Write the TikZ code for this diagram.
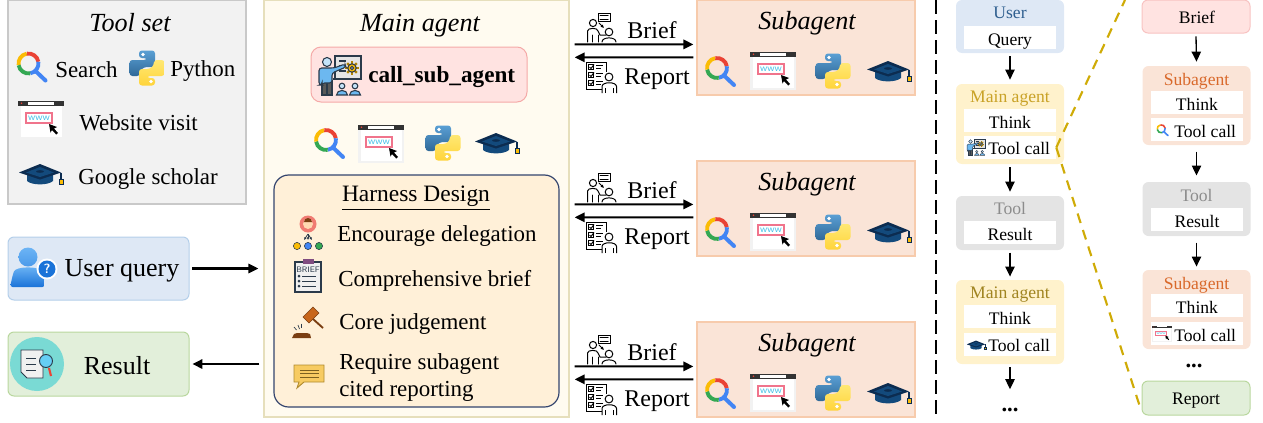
\documentclass[tikz,border=0pt]{standalone}
\usepackage{fontspec}
\setmainfont{Liberation Serif}
\usetikzlibrary{arrows.meta}

\definecolor{toolfill}{HTML}{F2F2F2}
\definecolor{toolline}{HTML}{C9C9C9}
\definecolor{userfill}{HTML}{DEE8F5}
\definecolor{userline}{HTML}{B4CFEA}
\definecolor{userhead}{HTML}{2F5F8F}
\definecolor{resfill}{HTML}{E2EFDA}
\definecolor{resline}{HTML}{B9D79E}
\definecolor{mainfill}{HTML}{FFFBF0}
\definecolor{mainline}{HTML}{E6DFBC}
\definecolor{callfill}{HTML}{FFE3E1}
\definecolor{callline}{HTML}{F5AAA8}
\definecolor{harnfill}{HTML}{FFF0D8}
\definecolor{harnline}{HTML}{34456E}
\definecolor{subfill}{HTML}{FAE4D7}
\definecolor{subline}{HTML}{F7CBAC}
\definecolor{subhead}{HTML}{D9692B}
\definecolor{mainflow}{HTML}{FFF2CC}
\definecolor{mainhead}{HTML}{C9A227}
\definecolor{mainheadb}{HTML}{A08420}
\definecolor{greyfill}{HTML}{E4E4E4}
\definecolor{greyhead}{HTML}{8C8C8C}
\definecolor{goldline}{HTML}{CFAB06}
\definecolor{gred}{HTML}{EA4335}
\definecolor{gyellow}{HTML}{FBBC05}
\definecolor{ggreen}{HTML}{34A853}
\definecolor{gblue}{HTML}{4285F4}
\definecolor{pyblueA}{HTML}{5A9FD4}
\definecolor{pyblueB}{HTML}{306998}
\definecolor{pyyelA}{HTML}{FFE873}
\definecolor{pyyelB}{HTML}{FFD43B}
\definecolor{capblue}{HTML}{134A7C}
\definecolor{capdark}{HTML}{0C2C50}
\definecolor{inkdark}{HTML}{2B3A4A}
\definecolor{shirt}{HTML}{6CB8F0}
\definecolor{teal}{HTML}{7ADAD4}
\definecolor{wwwcyan}{HTML}{45C0E8}
\definecolor{wwwpink}{HTML}{F0748C}
\definecolor{gavelA}{HTML}{C8661B}
\definecolor{gavelB}{HTML}{7A3E12}
\definecolor{quotefill}{HTML}{F7CB62}
\definecolor{quoteline}{HTML}{B08A2E}
\definecolor{userskyA}{HTML}{6CB4F5}
\definecolor{userskyB}{HTML}{1A73D8}

\newcommand{\fsz}[1]{\fontsize{#1}{#1}\selectfont}

\tikzset{
 x=0.75pt, y=-0.75pt,
 boxsize/.style 2 args={minimum width=#1*0.75pt, minimum height=#2*0.75pt, inner sep=0pt},
 softbox/.style={rounded corners=4.5pt, line width=0.75pt},
 whitebar/.style={fill=white, boxsize={92}{23}, text height=11.7pt, text depth=0pt},
 tooltxt/.style={inner sep=0pt, anchor=west, font=\fsz{17.2}},
 headtxt/.style={inner sep=0pt, font=\fsz{19.6}\itshape},
 flowtxt/.style={inner sep=0pt, font=\fsz{13.2}},
 linktip/.style={-{Triangle[length=7.5pt,width=7pt]}, line width=1.6pt},
 flowtip/.style={-{Triangle[length=7.5pt,width=7pt]}, line width=1pt},
 golddash/.style={goldline, line width=1.6pt, dash pattern=on 7.5pt off 5.5pt},
}

% tool icons, all drawn with y pointing down around their centre
\newcommand{\searchicon}[3]{
\begin{scope}[shift={(#1,#2)},scale=#3,line width=#3*2.9pt]
 \draw[gyellow] (-2,-3) ++(-190:10) arc[start angle=-190,end angle=-100,radius=10];
 \draw[gred] (-2,-3) ++(-100:10) arc[start angle=-100,end angle=-10,radius=10];
 \draw[gblue] (-2,-3) ++(-10:10) arc[start angle=-10,end angle=80,radius=10];
 \draw[ggreen] (-2,-3) ++(80:10) arc[start angle=80,end angle=170,radius=10];
 \draw[gblue,line width=#3*3pt,line cap=round] (5,4.5) -- (15,14);
\end{scope}
}
\newcommand{\pyicon}[3]{
\begin{scope}[shift={(#1,#2)},scale=#3]
 \shade[top color=pyblueA,bottom color=pyblueB,rounded corners=#3*2.2pt]
  (-8,-17.5) -- (8,-17.5) -- (8,-1) -- (-3,-1) -- (-7,3) -- (-7,8) -- (-17.5,8) -- (-17.5,-8) -- (0,-8) -- (0,-10) -- (-8,-10) -- cycle;
 \shade[top color=pyyelA,bottom color=pyyelB,rounded corners=#3*2.2pt,rotate=180]
  (-8,-17.5) -- (8,-17.5) -- (8,-1) -- (-3,-1) -- (-7,3) -- (-7,8) -- (-17.5,8) -- (-17.5,-8) -- (0,-8) -- (0,-10) -- (-8,-10) -- cycle;
 \fill[white] (-4,-13.5) circle (1.8);
 \fill[white] (4,13.5) circle (1.8);
\end{scope}
}
\newcommand{\capicon}[3]{
\begin{scope}[shift={(#1,#2)},scale=#3]
 \fill[capblue] (-13,0) -- (-13,7) .. controls (-8,11.5) and (8,11.5) .. (13,7) -- (13,0) -- cycle;
 \fill[capdark] (-21,-1.5) -- (0,-10) -- (21,-1.5) -- (0,5.5) -- cycle;
 \fill[capblue] (-14,-1.5) -- (0,-7) -- (14,-1.5) -- (0,3) -- cycle;
 \fill[capdark] (0,-2.5) ellipse (4 and 1.3);
 \draw[capdark,line width=#3*0.8pt] (21,-1.5) -- (21,5);
 \fill[gyellow,draw=capdark,line width=#3*0.5pt] (19,5) rectangle (23,10.5);
\end{scope}
}
\newcommand{\webicon}[4]{
\begin{scope}[shift={(#2,#3)},scale=#4]
 \fill[black!5] (-23,-19) rectangle (23,19);
 \fill[white] (-20.5,-14) rectangle (20.5,16.5);
 \fill[black!80] (-23,-19) rectangle (23,-14.5);
 \fill[white] (-13,-18) rectangle (13,-15.5);
 \fill[gred] (-19.5,-16.7) circle (0.9);
 \draw[wwwpink,fill=white,line width=#4*1.1pt] (-15,-7) rectangle (11,3);
 \node[inner sep=0pt,text=wwwcyan,scale=#4,font=\sffamily\fsz{7.5}] (#1) at (-2,-2) {www};
 \fill[black] (8,4) -- (16,7) -- (13,8.5) -- (17,13) -- (15.2,14.5) -- (11,10) -- (9.5,12.5) -- cycle;
\end{scope}
}
\newcommand{\teachicon}[3]{
\begin{scope}[shift={(#1,#2)},scale=#3,line width=#3*0.8pt,draw=inkdark]
 \fill[white!90!black,draw=inkdark] (-5,-19) rectangle (21,4);
 \draw[line width=#3*1.6pt] (-7,4) -- (22,4);
 \foreach \ly in {-14,-9,-4} {\draw (-1,\ly) -- (6,\ly);}
 \foreach \a in {0,45,...,315} {\draw[gyellow!70!black,line width=#3*1.8pt] (12,-7) ++(\a:4) -- ++(\a:2.8);}
 \draw[fill=gyellow] (12,-7) circle (4.2);
 \draw[fill=white] (12,-7) circle (1.7);
 \fill[black!65,draw=inkdark] (-18,6) rectangle (-8,20);
 \draw (-13,8) -- (-13,20);
 \draw[fill=shirt,rounded corners=#3*2pt] (-21,10) -- (-21,-7) -- (-6,-7) -- (5,-11) -- (6,-8) -- (-8,-2) -- (-8,8) -- (-18,8) -- (-18,10) -- cycle;
 \draw[fill=shirt!40!white] (-13,-13) circle (4.5);
 \foreach \px in {2,15} {
  \draw[fill=shirt!40!white] (\px,11) circle (2.8);
  \draw[fill=shirt] (\px-5.5,20) .. controls (\px-5.5,14) and (\px+5.5,14) .. (\px+5.5,20) -- cycle;
 }
\end{scope}
}
\newcommand{\briefsign}[2]{
\begin{scope}[shift={(#1,#2)},line width=0.75pt,line cap=round]
 \draw (-8,-8) circle (3.6);
 \draw (-13.5,11) -- (-13.5,0) .. controls (-13.5,-3.5) and (-3,-3.5) .. (-3,0) -- (-1,4) -- (5,4);
 \draw (-9,4) -- (-9,11);
 \draw (-3,4) -- (-3,11);
 \draw (8,1) circle (3.8);
 \draw (1,11) .. controls (1,5.5) and (15,5.5) .. (15,11);
 \draw (-3,-18) rectangle (9,-9.5);
 \draw (-1,-15.5) -- (7,-15.5);
 \draw (-1,-12) -- (7,-12);
 \draw[-{Latex[length=2.5pt,width=2.5pt]}] (-2,-8) -- (3,-3);
\end{scope}
}
\newcommand{\reportsign}[2]{
\begin{scope}[shift={(#1,#2)},line width=0.75pt]
 \draw (6,13) -- (-15,13) -- (-15,-14) -- (5,-14) -- (5,-4);
 \foreach \ly in {-9,-1,7} {
  \draw (-12.5,\ly-2.5) rectangle (-7.5,\ly+2.5);
  \draw (-11.5,\ly) -- (-10,\ly+1.5) -- (-7,\ly-2.5);
  \draw (-5,\ly-1.5) -- (2,\ly-1.5);
  \draw (-5,\ly+1.5) -- (0,\ly+1.5);
 }
 \draw[fill=white] (8,1) circle (3.9);
 \draw[fill=white] (1,17) -- (1,10.5) .. controls (1,5.5) and (15.5,5.5) .. (15.5,10.5) -- (15.5,17);
 \draw (4.5,17) -- (4.5,12);
 \draw (12,17) -- (12,12);
\end{scope}
}

\begin{document}
\begin{tikzpicture}
\useasboundingbox (0,0) rectangle (1263,422);

% tool set
\node (toolset) [fill=toolfill, draw=toolline, line width=1pt, boxsize={238}{204}] at (127,102) {};
\node (tooltitle) [headtxt] at (130,23) {Tool set};
\searchicon{30.5}{66.5}{1}
\node (searchtxt) [tooltxt] at (55,69.5) {Search};
\pyicon{147}{68}{1}
\node (pythontxt) [tooltxt] at (170,71.5) {Python};
\webicon{webset}{41}{120}{1}
\node (webtxt) [tooltxt] at (79,122.5) {Website visit};
\capicon{40}{174}{1}
\node (scholartxt) [tooltxt] at (78,179) {Google scholar};

% query and result
\node (userquery) [softbox, fill=userfill, draw=userline, boxsize={181}{63}] at (98.5,268.5) {};
\node (usertxt) [inner sep=0pt, font=\fsz{19.5}] at (122,271) {User query};
\shade[top color=userskyA, bottom color=userskyA!60!userskyB] (28,257) circle (9.5);
\shade[top color=userskyA, bottom color=userskyB, rounded corners=2pt] (10,287) -- (13,274) .. controls (16,266) and (40,266) .. (43,274) -- (45,287) -- cycle;
\fill[white] (47,269) circle (10.5);
\fill[userskyB] (47,269) circle (8.5);
\node (userask) [inner sep=0pt, text=white, font=\fsz{10}\bfseries\sffamily] at (47,269) {?};

\node (resultbox) [softbox, fill=resfill, draw=resline, boxsize={181}{64}] at (98.5,364) {};
\node (resulttxt) [inner sep=0pt, font=\fsz{19.5}] at (117,366) {Result};
\fill[teal] (37,364) circle (27);
\draw[inkdark, fill=white!94!black, line width=0.7pt] (25,350) -- (43,350) -- (43,378) -- (27,378) -- (21,372) -- (21,350) -- cycle;
\foreach \ly in {358,364,370} {\draw[inkdark, line width=0.6pt] (26,\ly) -- (36,\ly);}
\draw[gred, line width=1.6pt] (49,368) -- (51,376);
\draw[inkdark, fill=cyan!60!white, line width=0.7pt] (46,361) circle (6.5);

% main agent
\node (mainbox) [fill=mainfill, draw=mainline, line width=1pt, boxsize={305}{417}] at (416.5,208.5) {};
\node (maintitle) [headtxt] at (420,26) {Main agent};
\node (callbox) [fill=callfill, draw=callline, rounded corners=7.5pt, line width=0.75pt, boxsize={216}{55}] at (419,74.5) {};
\teachicon{340}{75}{1}
\node (calltxt) [inner sep=0pt, anchor=west, font=\fsz{17.4}\bfseries] at (368,77) {call\_sub\_agent};
\searchicon{328}{143}{1}
\webicon{webmain}{381}{144}{1}
\pyicon{443}{143}{1}
\capicon{496}{143}{1}

% harness design
\node (harness) [fill=harnfill, draw=harnline, rounded corners=11pt, line width=0.9pt, boxsize={285}{232}] at (416.5,291) {};
\node (harnesstitle) [inner sep=0pt, font=\fsz{17.6}] at (416,198) {\underline{Harness Design}};
\node (ruledeleg) [tooltxt] at (337,236) {Encourage delegation};
\node (rulebrief) [tooltxt] at (338,281) {Comprehensive brief};
\node (rulecore) [tooltxt] at (339,324) {Core judgement};
\node (rulecited) [tooltxt, align=left, font=\fontsize{17.2}{20.25}\selectfont] at (339,377.5) {Require subagent\\cited reporting};
% delegation sign
\fill[gred!70!white] (308,224) circle (8.5);
\fill[orange!30!white] (308,224) circle (5);
\fill[gavelB] (304,222) arc[start angle=180,end angle=360,radius=4];
\foreach \px/\dx/\hue in {297/-4/gyellow,308/0/gblue,319/4/ggreen} {
 \draw[inkdark, line width=0.6pt, -{Latex[length=2pt,width=2pt]}] (308,234) -- (308+\dx,240);
 \fill[\hue, draw=inkdark, line width=0.4pt] (\px,246) circle (3.6);
}
% brief sign
\draw[inkdark, fill=white!94!black, line width=1pt] (295,262) rectangle (321,292);
\fill[violet!40!gray] (303,259) rectangle (314,264);
\node (briefword) [inner sep=0pt, text=inkdark, font=\sffamily\fsz{6}] at (308,270) {BRIEF};
\foreach \ly in {276,281,286} {
 \fill[inkdark] (299,\ly) circle (1.5);
 \draw[inkdark, line width=0.6pt] (302,\ly) -- (316,\ly);
}
% gavel sign
\draw[gavelB, fill=gavelA, line width=0.4pt] (303,317) -- (313,307) -- (319,313) -- (309,323) -- cycle;
\draw[gavelB, fill=gavelA!80!white, line width=1.4pt] (313,319) -- (323,328);
\fill[gavelB] (292,338) -- (294,334) -- (297,333) -- (307,333) -- (310,334) -- (311,338) -- cycle;
\foreach \ax/\bx/\ay/\by in {298/299.5/325/329,301/301/323.5/328,294/296.5/327/330} {\draw[inkdark, line width=0.5pt] (\ax,\ay) -- (\bx,\by);}
% quote sign
\draw[quoteline, fill=quotefill, line width=0.7pt] (294,365) -- (324,365) -- (324,382) -- (304,382) -- (297,388) -- (299,382) -- (294,382) -- cycle;
\foreach \ly in {370,373.5,377} {\draw[quoteline!70!black, line width=0.7pt] (300,\ly) -- (319,\ly);}

% subagents with their links
\foreach \y/\n/\d in {0/a/0,161/b/-1,322/c/0}
{
 \node (sub\n) [fill=subfill, draw=subline, line width=0.9pt, boxsize={218}{95}] at (806,47.5+\y) {};
 \node (subtitle\n) [headtxt] at (807,23.5+\y) {Subagent};
 \searchicon{719}{71+\y}{1}
 \webicon{web\n}{773}{71+\y}{1}
 \pyicon{833}{71+\y}{1}
 \capicon{888}{71+\y}{1}
 \draw[linktip] ([shift={(5,45+\y+\d)}]mainbox.north east) -- ([shift={(-3,45+\d)}]sub\n.north west);
 \draw[linktip] ([shift={(-3,58+\d)}]sub\n.north west) -- ([shift={(5,58+\y+\d)}]mainbox.north east);
 \node (brief\n) [inner sep=0pt, font=\fsz{18}] at (652,30+\y+\d) {Brief};
 \node (report\n) [inner sep=0pt, font=\fsz{18}] at (657,79+\y+\d) {Report};
 \briefsign{601}{31+\y+\d}
 \reportsign{601}{76+\y+\d}
}

% separator
\coordinate (septop) at (936,0);
\coordinate (sepend) at (936,418);
\draw[line width=2.1pt, dash pattern=on 10.5pt off 4.5pt] (septop) -- (sepend);

% left flow
\node (floUser) [softbox, fill=userfill, boxsize={108}{53}] at (1010,26.5) {};
\node (floUsert) [flowtxt, text=userhead] at (1010,13) {User};
\node (floQuery) [whitebar, flowtxt] at (1010,37.5) {Query};
\node (floMainA) [softbox, fill=mainflow, boxsize={108}{80}] at (1010,124) {};
\node (floMainAt) [flowtxt, text=mainhead] at (1010,99) {Main agent};
\node (floThinkA) [whitebar, flowtxt] at (1010,120.5) {Think};
\node (floCallA) [whitebar, flowtxt] at (1010,147.5) {};
\teachicon{976}{147}{0.42}
\node (floCallAt) [flowtxt, anchor=west] at (988,148.5) {Tool call};
\node (floTool) [softbox, fill=greyfill, boxsize={108}{54}] at (1010,223) {};
\node (floToolt) [flowtxt, text=greyhead] at (1010,208) {Tool};
\node (floResult) [whitebar, flowtxt] at (1010,232.5) {Result};
\node (floMainB) [softbox, fill=mainflow, boxsize={108}{84}] at (1010,322) {};
\node (floMainBt) [flowtxt, text=mainheadb] at (1010,295) {Main agent};
\node (floThinkB) [whitebar, flowtxt] at (1010,316.5) {Think};
\node (floCallB) [whitebar, flowtxt] at (1010,344.5) {};
\capicon{976}{345}{0.44}
\node (floCallBt) [flowtxt, anchor=west] at (988,345.5) {Tool call};
\node (floDots) [inner sep=0pt, font=\fsz{17}\bfseries] at (1010,410) {...};
\draw[flowtip] ([yshift=-2.2pt]floUser.south) -- ([yshift=2.9pt]floMainA.north);
\draw[flowtip] ([yshift=-2.2pt]floMainA.south) -- ([yshift=2.9pt]floTool.north);
\draw[flowtip] ([yshift=-1.5pt]floTool.south) -- ([yshift=2.2pt]floMainB.north);
\draw[flowtip] ([yshift=-2.2pt]floMainB.south) -- ([yshift=14pt]floDots.north);

% right flow
\node (subBrief) [softbox, fill=callfill, draw=callline!70!white, boxsize={108}{33}] at (1196,16.5) {};
\node (subBrieft) [flowtxt] at (1197,17) {Brief};
\node (subA) [softbox, fill=subfill, boxsize={108}{79}] at (1196.5,105.5) {};
\node (subAt) [flowtxt, text=subhead] at (1196.5,81) {Subagent};
\node (subThinkA) [whitebar, flowtxt] at (1197,102.5) {Think};
\node (subCallA) [whitebar, flowtxt] at (1197,129.5) {};
\searchicon{1162}{130}{0.4}
\node (subCallAt) [flowtxt, anchor=west] at (1174,131) {Tool call};
\node (subTool) [softbox, fill=greyfill, boxsize={108}{54}] at (1196.5,209) {};
\node (subToolt) [flowtxt, text=greyhead] at (1196.5,195) {Tool};
\node (subResult) [whitebar, flowtxt] at (1197,219.5) {Result};
\node (subB) [softbox, fill=subfill, boxsize={108}{79}] at (1196.5,309.5) {};
\node (subBt) [flowtxt, text=subhead] at (1196.5,285) {Subagent};
\node (subThinkB) [whitebar, flowtxt] at (1197,305.5) {Think};
\node (subCallB) [whitebar, flowtxt] at (1197,333.5) {};
\webicon{webflow}{1162}{334}{0.42}
\node (subCallBt) [flowtxt, anchor=west] at (1174,335) {Tool call};
\node (subDots) [inner sep=0pt, font=\fsz{17}\bfseries] at (1194,366) {...};
\node (subReport) [softbox, fill=resfill, draw=resline, boxsize={108}{34}] at (1196,398) {};
\node (subReportt) [flowtxt] at (1196,401) {Report};
\draw[flowtip] ([yshift=-2.2pt]subBrief.south) -- ([yshift=2.9pt]subA.north);
\draw[flowtip] ([yshift=-4.5pt]subA.south) -- ([yshift=4.5pt]subTool.north);
\draw[flowtip] ([yshift=-4.5pt]subTool.south) -- ([yshift=2.2pt]subB.north);

% zoom lines
\coordinate (zoomtop) at (1125,0);
\coordinate (zoomend) at (1140,407);
\draw[golddash] (floCallA.east) -- (zoomtop);
\draw[golddash] (floCallA.east) -- (zoomend);

% query and result links
\draw[linktip] ([xshift=2.2pt]userquery.east) -- ([xshift=-3.7pt]userquery.east -| mainbox.west);
\draw[linktip] ([xshift=-3pt]resultbox.east -| mainbox.west) -- ([xshift=2.2pt]resultbox.east);
\end{tikzpicture}
\end{document}
